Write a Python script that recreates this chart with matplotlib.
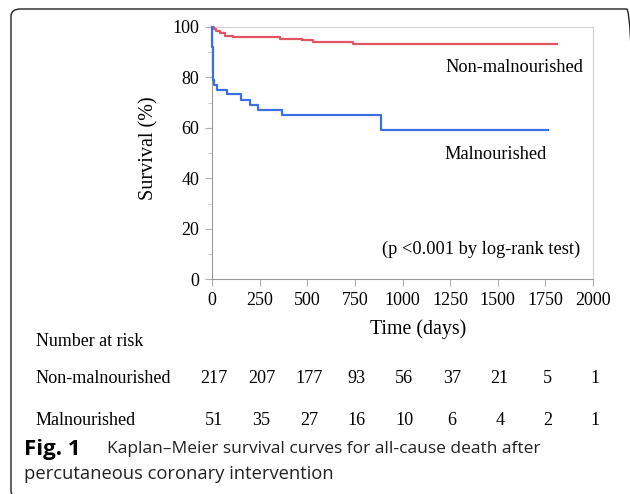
import matplotlib
matplotlib.use("Agg")
import matplotlib.pyplot as plt
from matplotlib.patches import FancyBboxPatch
from matplotlib.transforms import blended_transform_factory

# Kaplan-Meier step data
t_non = [0, 10, 20, 42, 68, 110, 357, 470, 530, 740, 1810]
s_non = [100, 99.4, 98.6, 97.5, 96.6, 95.9, 95.2, 94.8, 94.0, 93.4, 93.4]

t_mal = [0, 1, 2, 3, 4, 5, 12, 25, 81, 152, 197, 244, 366, 886, 1762]
s_mal = [100, 96, 92, 88, 84, 79, 77.1, 75.1, 73.3, 71.1, 69.2, 67.2, 65.1, 59.2, 59.2]

risk_times = [0, 250, 500, 750, 1000, 1250, 1500, 1750, 2000]
risk_non = [217, 207, 177, 93, 56, 37, 21, 5, 1]
risk_mal = [51, 35, 27, 16, 10, 6, 4, 2, 1]

W, H = 630, 494
serif = "Liberation Serif"

def fx(px):
	return px / W

def fy(py):
	return 1 - py / H

fig = plt.figure(figsize=(6.3, 4.94), dpi=100)

# rounded outer frame (runs off the right/bottom edge like the source)
frame = FancyBboxPatch((fx(11), fy(498)), fx(636) - fx(11), fy(9) - fy(498),
	boxstyle="round,pad=0,rounding_size=0.015", transform=fig.transFigure,
	fill=False, edgecolor="#222222", linewidth=1.0, clip_on=False)
fig.patches.append(frame)

ax = fig.add_axes([fx(212), fy(279.3), fx(593) - fx(212), fy(27) - fy(279.3)])
ax.step(t_non, s_non, where="post", color="#e25363", lw=1.6, zorder=4, clip_on=False)
ax.step(t_mal, s_mal, where="post", color="#3b6fe3", lw=1.6, zorder=4, clip_on=False)

ax.set_xlim(0, 2000)
ax.set_ylim(0, 100)
ax.set_xticks(risk_times)
ax.set_yticks(range(0, 101, 20))
ax.set_yticks(range(10, 100, 20), minor=True)
for s in ["left", "bottom"]:
	ax.spines[s].set_color("#9a9a9a")
for s in ["top", "right"]:
	ax.spines[s].set_color("#d0d0d0")
ax.tick_params(axis="both", which="major", length=5, color="#b0b0b0",
	labelsize=13, pad=4)
ax.tick_params(axis="y", which="minor", length=3, color="#c0c0c0")
for lab in ax.get_xticklabels() + ax.get_yticklabels():
	lab.set_fontfamily(serif)

fig.text(fx(149), fy(148), "Survival (%)", fontfamily=serif, fontsize=14.5,
	rotation=90, ha="center", va="center")

ax.text(1225, 84, "Non-malnourished", fontfamily=serif, fontsize=13.2, va="center")
ax.text(1220, 49.5, "Malnourished", fontfamily=serif, fontsize=13.2, va="center")
ax.text(890, 12, "(p <0.001 by log-rank test)", fontfamily=serif, fontsize=13.2, va="center")

fig.text(fx(418), fy(329), "Time (days)", fontfamily=serif, fontsize=14.3, ha="center", va="center")

# number at risk table
fig.text(fx(36), fy(341), "Number at risk", fontfamily=serif, fontsize=12.9, va="center")
fig.text(fx(36), fy(378), "Non-malnourished", fontfamily=serif, fontsize=13.1, va="center")
fig.text(fx(36), fy(420), "Malnourished", fontfamily=serif, fontsize=13.1, va="center")
tr = blended_transform_factory(ax.transData, fig.transFigure)
for t, a, b in zip(risk_times, risk_non, risk_mal):
	ax.text(t + 10, fy(378), str(a), transform=tr, fontfamily=serif, fontsize=13.1,
		ha="center", va="center", clip_on=False)
	ax.text(t + 10, fy(420), str(b), transform=tr, fontfamily=serif, fontsize=13.1,
		ha="center", va="center", clip_on=False)

# caption
fig.text(fx(24), fy(449), "Fig. 1", fontfamily="Open Sans", fontweight="bold",
	fontsize=16, va="center")
fig.text(fx(107), fy(449), "Kaplan\u2013Meier survival curves for all-cause death after",
	fontfamily="Open Sans", fontsize=12.5, va="center", color="#222222")
fig.text(fx(24), fy(474), "percutaneous coronary intervention",
	fontfamily="Open Sans", fontsize=13.2, va="center", color="#222222")

fig.savefig("out.png", dpi=100)
